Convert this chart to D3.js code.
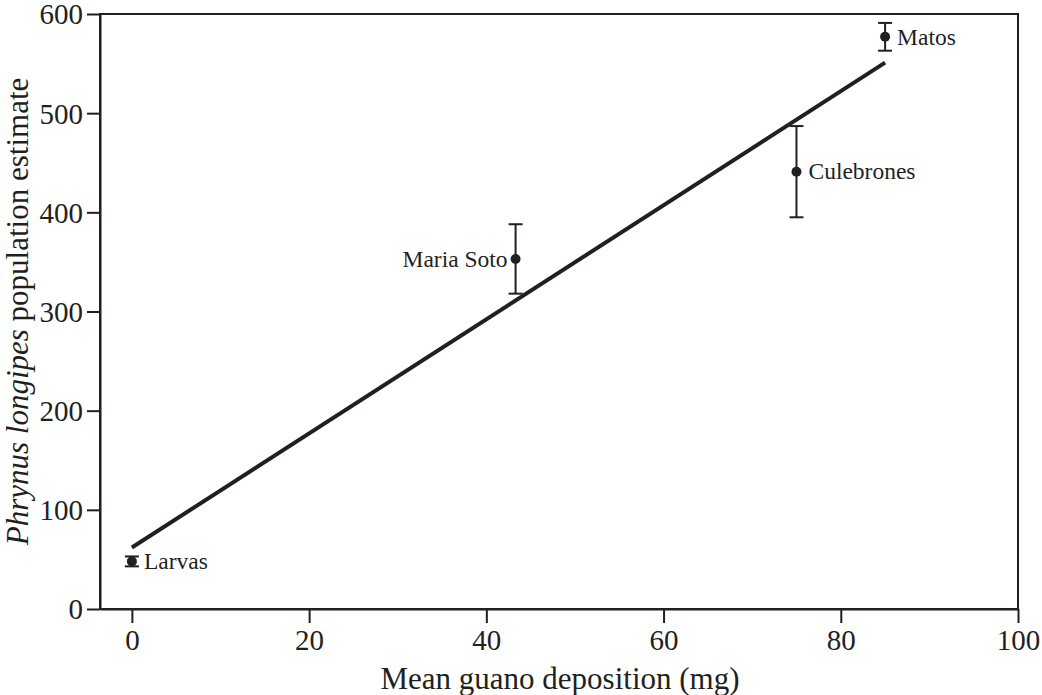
<!DOCTYPE html>
<html><head><meta charset="utf-8">
<script src="https://cdn.jsdelivr.net/npm/d3@7"></script>
<style>
body{margin:0;background:#fff;}
svg{display:block;}
text{font-family:"Liberation Serif","Times New Roman",serif;fill:#231f20;}
</style></head>
<body>
<svg id="chart" width="1042" height="695"></svg>
<script>
const sites = ["Larvas","Maria Soto","Culebrones","Matos"];
const guano = [0, 43.3, 75, 85];
const population = [48, 353, 441, 577];
const errors = [5, 35, 46, 14];
const fitX = [0, 85];
const fitY = [62, 551];
const xTicks = [0,20,40,60,80,100];
const yTicks = [0,100,200,300,400,500,600];

const svg = d3.select("#chart");
const m = {left:100, right:24, top:14, bottom:86};
const W = 1042, H = 695;
const x = d3.scaleLinear().domain([-3.6,100]).range([m.left, W-m.right]);
const y = d3.scaleLinear().domain([0,600]).range([H-m.bottom, m.top]);
const ink = "#231f20";

// frame
svg.append("rect").attr("x",m.left).attr("y",m.top)
  .attr("width",W-m.right-m.left).attr("height",H-m.bottom-m.top)
  .attr("fill","none").attr("stroke",ink).attr("stroke-width",2);

const xa = svg.append("g").attr("transform",`translate(0,${H-m.bottom})`)
  .call(d3.axisBottom(x).tickValues(xTicks).tickSize(14).tickSizeOuter(0).tickPadding(6).tickFormat(d3.format("d")));
const ya = svg.append("g").attr("transform",`translate(${m.left},0)`)
  .call(d3.axisLeft(y).tickValues(yTicks).tickSize(13).tickSizeOuter(0).tickPadding(4).tickFormat(d3.format("d")));
[xa,ya].forEach(g=>{
  g.select(".domain").attr("stroke",ink).attr("stroke-width",2);
  g.selectAll(".tick line").attr("stroke",ink).attr("stroke-width",2);
  g.selectAll(".tick text").attr("font-size",29).attr("font-family","Liberation Serif").attr("fill",ink);
});
ya.selectAll(".tick text").attr("dy","0.34em");

// fit line
svg.append("line").attr("x1",x(fitX[0])).attr("y1",y(fitY[0]))
  .attr("x2",x(fitX[1])).attr("y2",y(fitY[1]))
  .attr("stroke",ink).attr("stroke-width",4);

const data = sites.map((s,i)=>({s, gx:guano[i], p:population[i], e:errors[i]}));
const g = svg.append("g");
data.forEach(d=>{
  const cx = x(d.gx);
  g.append("line").attr("x1",cx).attr("x2",cx).attr("y1",y(d.p-d.e)).attr("y2",y(d.p+d.e)).attr("stroke",ink).attr("stroke-width",2);
  [d.p-d.e,d.p+d.e].forEach(v=>g.append("line").attr("x1",cx-7).attr("x2",cx+7).attr("y1",y(v)).attr("y2",y(v)).attr("stroke",ink).attr("stroke-width",2));
  g.append("circle").attr("cx",cx).attr("cy",y(d.p)).attr("r",5).attr("fill",ink);
  const left = d.s==="Maria Soto";
  g.append("text").attr("x", left? cx-8 : cx+12).attr("y",y(d.p)).attr("dy","0.33em")
    .attr("text-anchor", left?"end":"start").attr("font-size",23.5).text(d.s);
});

// axis titles
svg.append("text").attr("x",(x(-3.6)+x(100))/2+1).attr("y",689).attr("text-anchor","middle")
  .attr("font-size",31).text("Mean guano deposition (mg)");
const yt = svg.append("text").attr("transform",`translate(28,${(m.top+H-m.bottom)/2}) rotate(-90)`)
  .attr("text-anchor","middle").attr("font-size",31);
yt.append("tspan").attr("font-style","italic").text("Phrynus longipes");
yt.append("tspan").text(" population estimate");
</script>
</body></html>
